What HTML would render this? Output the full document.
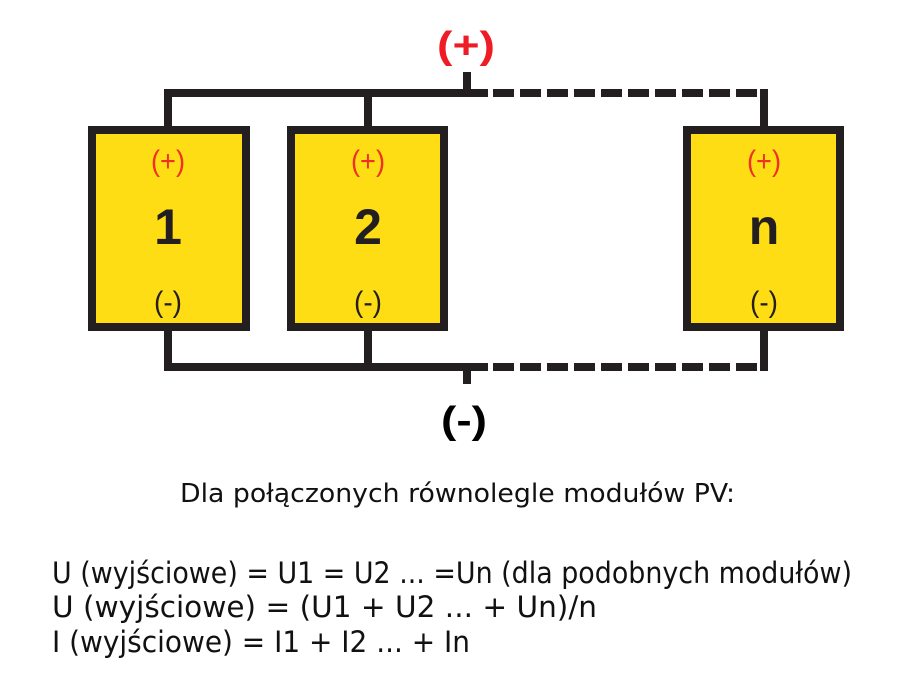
<!DOCTYPE html>
<html><head><meta charset="utf-8"><style>
body{margin:0;background:#fff;width:924px;height:684px;overflow:hidden;font-family:"Liberation Sans",sans-serif}
</style></head><body>
<svg width="924" height="684" xmlns="http://www.w3.org/2000/svg" style="position:absolute;left:0;top:0">
<g fill="#231f20">
<rect x="164" y="89" width="324" height="8"/>
<rect x="164" y="89" width="8" height="40"/>
<rect x="364" y="89" width="8" height="40"/>
<rect x="463" y="72" width="8" height="20"/>
<rect x="164" y="328" width="8" height="43"/>
<rect x="364" y="328" width="8" height="43"/>
<rect x="164" y="363" width="324" height="8"/>
<rect x="463" y="368" width="8" height="16"/>
<rect x="760" y="89" width="8" height="40"/>
<rect x="760" y="328" width="8" height="43"/>
</g>
<line x1="493" y1="93" x2="768" y2="93" stroke="#231f20" stroke-width="8" stroke-dasharray="21 6"/>
<line x1="493" y1="367" x2="768" y2="367" stroke="#231f20" stroke-width="8" stroke-dasharray="21 6"/>
<g fill="#ffdd15" stroke="#231f20" stroke-width="8">
<rect x="92" y="130" width="154" height="197"/>
<rect x="291" y="130" width="153" height="197"/>
<rect x="687" y="130" width="153" height="197"/>
</g>
<g font-family="Liberation Sans, sans-serif" text-anchor="middle">
<g fill="#ee3124" font-size="30"><text x="168" y="171" textLength="34" lengthAdjust="spacingAndGlyphs">(+)</text><text x="368" y="171" textLength="34" lengthAdjust="spacingAndGlyphs">(+)</text><text x="764" y="171" textLength="34" lengthAdjust="spacingAndGlyphs">(+)</text></g>
<g fill="#231f20" font-size="50" font-weight="bold"><text x="168" y="244">1</text><text x="368" y="244">2</text><text x="764" y="244">n</text></g>
<g fill="#231f20" font-size="30"><text x="168" y="312" textLength="28" lengthAdjust="spacingAndGlyphs">(-)</text><text x="368" y="312" textLength="28" lengthAdjust="spacingAndGlyphs">(-)</text><text x="764" y="312" textLength="28" lengthAdjust="spacingAndGlyphs">(-)</text></g>
<text x="466" y="58" fill="#ee1c24" font-size="38" font-weight="bold" textLength="58" lengthAdjust="spacingAndGlyphs">(+)</text>
<text x="464" y="433" fill="#000" font-size="38" font-weight="bold" textLength="46" lengthAdjust="spacingAndGlyphs">(-)</text>
</g>
<g font-family="DejaVu Sans, sans-serif" fill="#111">
<text x="180" y="502" font-size="26" textLength="555" lengthAdjust="spacingAndGlyphs">Dla połączonych równolegle modułów PV:</text>
<text x="52" y="583" font-size="29" textLength="800" lengthAdjust="spacingAndGlyphs">U (wyjściowe) = U1 = U2 ... =Un (dla podobnych modułów)</text>
<text x="52" y="617" font-size="29" textLength="545" lengthAdjust="spacingAndGlyphs">U (wyjściowe) = (U1 + U2 ... + Un)/n</text>
<text x="52" y="652" font-size="29" textLength="418" lengthAdjust="spacingAndGlyphs">I (wyjściowe) = I1 + I2 ... + In</text>
</g>
</svg>
</body></html>
